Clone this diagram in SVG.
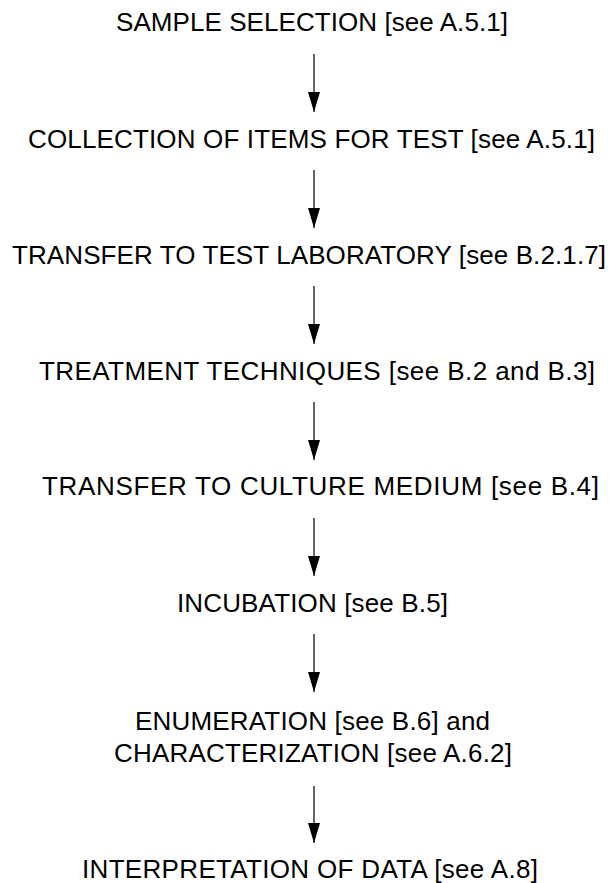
<svg xmlns="http://www.w3.org/2000/svg" width="616" height="883" viewBox="0 0 616 883">
<style>
text{font-family:"Liberation Sans",Arial,sans-serif;font-size:26px;fill:#000;text-anchor:middle}
.c{stroke:#000;stroke-width:1.2;fill:none}
</style>
<defs>
<marker id="ah" viewBox="0 0 20 12" markerWidth="20" markerHeight="12" refX="20" refY="6" orient="auto" markerUnits="userSpaceOnUse">
<path d="M0,0 L20,6 L0,12 z" fill="#000"/>
</marker>
</defs>
<rect width="616" height="883" fill="#fff"/>
<g id="n1"><text x="312" y="31" textLength="392" lengthAdjust="spacing">SAMPLE SELECTION [see A.5.1]</text></g>
<g id="n2"><text x="311.5" y="148" textLength="567" lengthAdjust="spacing">COLLECTION OF ITEMS FOR TEST [see A.5.1]</text></g>
<g id="n3"><text x="309" y="264" textLength="594" lengthAdjust="spacing">TRANSFER TO TEST LABORATORY [see B.2.1.7]</text></g>
<g id="n4"><text x="317" y="380" textLength="556" lengthAdjust="spacing">TREATMENT TECHNIQUES [see B.2 and B.3]</text></g>
<g id="n5"><text x="320.5" y="495" textLength="557" lengthAdjust="spacing">TRANSFER TO CULTURE MEDIUM [see B.4]</text></g>
<g id="n6"><text x="312.5" y="612" textLength="271" lengthAdjust="spacing">INCUBATION [see B.5]</text></g>
<g id="n7"><text x="312.5" y="730" textLength="355" lengthAdjust="spacing">ENUMERATION [see B.6] and</text><text x="313" y="762" textLength="398" lengthAdjust="spacing">CHARACTERIZATION [see A.6.2]</text></g>
<g id="n8"><text x="310" y="878" textLength="456" lengthAdjust="spacing">INTERPRETATION OF DATA [see A.8]</text></g>
<g id="connectors">
<line class="c" x1="314" y1="54" x2="314" y2="112" marker-end="url(#ah)"/>
<line class="c" x1="314" y1="170" x2="314" y2="228" marker-end="url(#ah)"/>
<line class="c" x1="314" y1="286" x2="314" y2="344" marker-end="url(#ah)"/>
<line class="c" x1="314" y1="402" x2="314" y2="460" marker-end="url(#ah)"/>
<line class="c" x1="314" y1="518" x2="314" y2="576" marker-end="url(#ah)"/>
<line class="c" x1="314" y1="634" x2="314" y2="692" marker-end="url(#ah)"/>
<line class="c" x1="314" y1="786" x2="314" y2="843" marker-end="url(#ah)"/>
</g>
</svg>
